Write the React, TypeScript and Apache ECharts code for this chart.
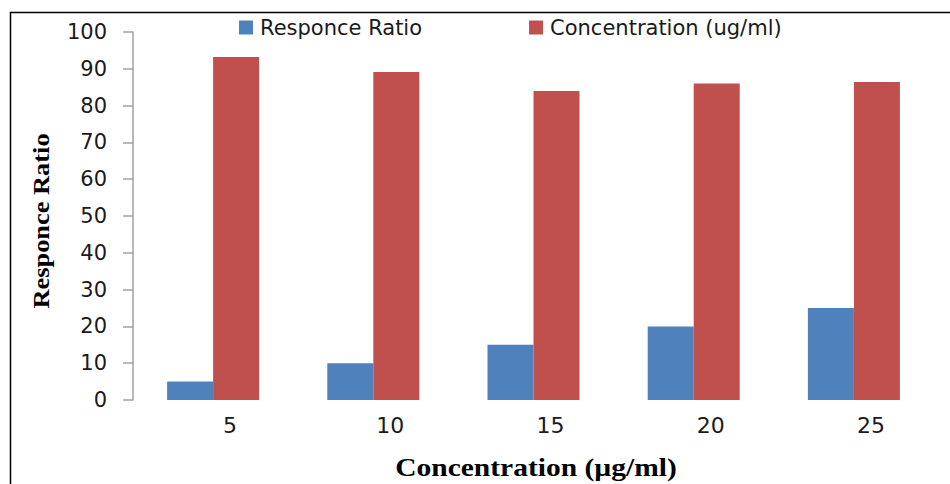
import React, { useEffect, useRef } from "react";
import * as echarts from "echarts";

// Concentration levels on the x axis
const categories = ["5", "10", "15", "20", "25"];
// Blue series: response ratio per level
const responceRatio = [5, 10, 15, 20, 25];
// Red series: measured concentration per level
const concentration = [93.2, 89.1, 84.0, 86.0, 86.4];

const seriesNames = ["Responce Ratio", "Concentration (ug/ml)"];
const yAxisTitle = "Responce Ratio";
const xAxisTitle = "Concentration (\u00b5g/ml)";

const SANS = "'DejaVu Sans', sans-serif";
const SERIF = "'Liberation Serif', 'Times New Roman', serif";

export default function App() {
  const ref = useRef<HTMLDivElement>(null);

  useEffect(() => {
    document.body.style.margin = "0";
    if (!ref.current) return;
    const chart = echarts.init(ref.current, null, { renderer: "svg" });
    chart.setOption({
      animation: false,
      backgroundColor: "#ffffff",
      legend: {
        data: seriesNames,
        left: 234,
        top: 12,
        icon: "rect",
        itemWidth: 14,
        itemHeight: 14,
        itemGap: 107,
        textStyle: { fontFamily: SANS, fontSize: 21, color: "#1a1a1a", padding: [0, 0, 0, 2] },
      },
      grid: { left: 133, right: 16, top: 32, bottom: 84, containLabel: false },
      xAxis: {
        type: "category",
        data: categories,
        axisLine: { show: false },
        axisTick: { show: false },
        axisLabel: {
          fontFamily: SANS,
          fontSize: 22,
          color: "#1a1a1a",
          margin: 14,
          padding: [0, 0, 0, 34],
        },
      },
      yAxis: {
        type: "value",
        min: 0,
        max: 100,
        interval: 10,
        splitLine: { show: false },
        axisLine: { show: true, lineStyle: { color: "#a0a0a0", width: 1.5 } },
        axisTick: { show: true, length: 10, lineStyle: { color: "#a0a0a0", width: 1.5 } },
        axisLabel: { fontFamily: SANS, fontSize: 21, color: "#1a1a1a", margin: 26 },
      },
      series: [
        {
          name: seriesNames[0],
          type: "bar",
          data: responceRatio,
          barWidth: 46,
          barGap: "0%",
          itemStyle: { color: "#4f81bd" },
        },
        {
          name: seriesNames[1],
          type: "bar",
          data: concentration,
          barWidth: 46,
          barGap: "0%",
          itemStyle: { color: "#c0504d" },
        },
      ],
      graphic: [
        {
          type: "polyline",
          shape: { points: [[10.5, 484], [10.5, 12.5], [950, 12.5]] },
          style: { stroke: "#000000", lineWidth: 1.5, fill: null },
          silent: true,
        },
        {
          type: "text",
          x: 41,
          y: 221,
          rotation: Math.PI / 2,
          scaleX: 1.1,
          style: {
            text: yAxisTitle,
            font: `bold 24px ${SERIF}`,
            fill: "#000000",
            align: "center",
            verticalAlign: "middle",
          },
        },
        {
          type: "text",
          x: 536,
          y: 468,
          scaleX: 1.18,
          style: {
            text: xAxisTitle,
            font: `bold 25px ${SERIF}`,
            fill: "#000000",
            align: "center",
            verticalAlign: "middle",
          },
        },
      ],
    });
    return () => chart.dispose();
  }, []);

  return <div ref={ref} style={{ width: 950, height: 484 }} />;
}
